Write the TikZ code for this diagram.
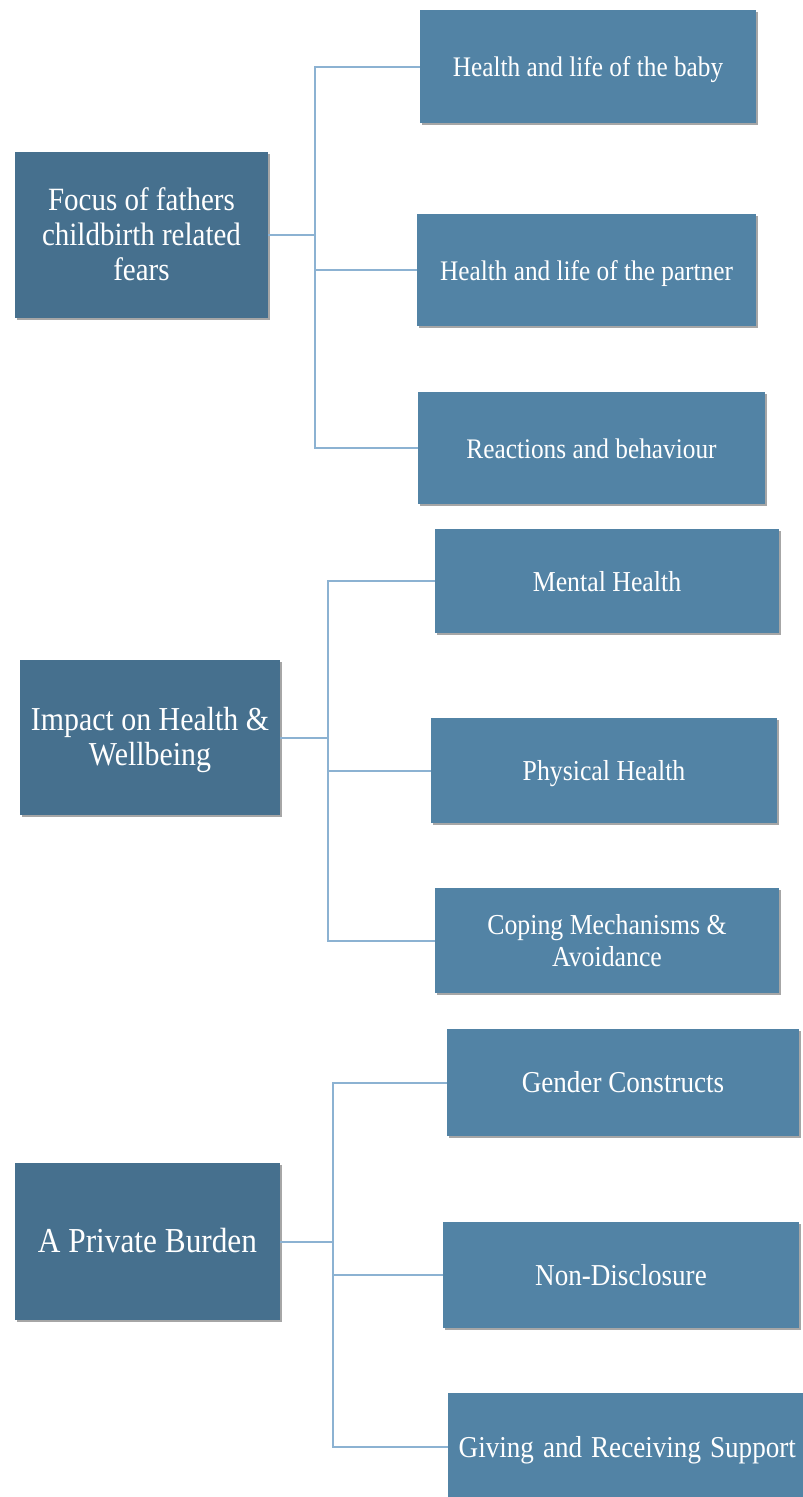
\documentclass[tikz,border=0pt]{standalone}
\usepackage{fontspec}
\setmainfont{Liberation Serif}
\usetikzlibrary{shadows}
\definecolor{parentblue}{HTML}{46708E}
\definecolor{childblue}{HTML}{5283A5}
\definecolor{linkblue}{HTML}{8CB2D2}
\newcommand{\stretchtext}[1]{\raisebox{-3.5pt}[\height][\depth]{\scalebox{1}[1.12]{\begin{tabular}{@{}c@{}}#1\end{tabular}}}}
\tikzset{
  box/.style={draw=none, text=white, align=center, inner sep=4pt,
    drop shadow={shadow xshift=2pt, shadow yshift=-2pt, opacity=0.35, fill=black}},
  parentbox/.style={box, fill=parentblue},
  childbox/.style={box, fill=childblue},
  fa/.style={font=\fontsize{25.3}{29}\selectfont},
  fb/.style={font=\fontsize{25.8}{29}\selectfont},
  fc/.style={font=\fontsize{27.1}{30}\selectfont},
  conn/.style={draw=linkblue, line width=2pt}
}
\begin{document}
\begin{tikzpicture}[x=1pt,y=-1pt]
\clip (0,0) rectangle (803,1497);
\fill[white] (0,0) rectangle (803,1497);
% group 1
\node[parentbox, font=\fontsize{29}{31.3}\selectfont, minimum width=253pt, minimum height=166pt] (p1) at (141.5,235) {\stretchtext{Focus of fathers\\childbirth related\\fears}};
\node[childbox, fa, minimum width=336pt, minimum height=113pt] (c1) at (588,66.5) {\stretchtext{Health and life of the baby}};
\node[childbox, fa, minimum width=339pt, minimum height=112pt] (c2) at (586.5,270) {\stretchtext{Health and life of the partner}};
\node[childbox, fa, minimum width=347pt, minimum height=112pt] (c3) at (591.5,448) {\stretchtext{Reactions and behaviour}};
\coordinate (t1) at (315,0);
% group 2
\node[parentbox, font=\fontsize{29.9}{31.3}\selectfont, minimum width=260pt, minimum height=155pt] (p2) at (150,737.5) {\stretchtext{Impact on Health \&\\Wellbeing}};
\node[childbox, fb, minimum width=344pt, minimum height=104pt] (c4) at (607,581) {\stretchtext{Mental Health}};
\node[childbox, fb, minimum width=346pt, minimum height=105pt] (c5) at (604,770.5) {\stretchtext{Physical Health}};
\node[childbox, fb, minimum width=344pt, minimum height=105pt] (c6) at (607,940.5) {\stretchtext{Coping Mechanisms \&\\Avoidance}};
\coordinate (t2) at (328,0);
% group 3
\node[parentbox, font=\fontsize{31.3}{34}\selectfont, minimum width=265pt, minimum height=157pt] (p3) at (147.5,1241.5) {\stretchtext{A Private Burden}};
\node[childbox, fc, minimum width=352pt, minimum height=107pt] (c7) at (623,1082.5) {\stretchtext{Gender Constructs}};
\node[childbox, fc, minimum width=356pt, minimum height=106pt] (c8) at (621,1275) {\stretchtext{Non-Disclosure}};
\node[childbox, fc, anchor=west, minimum width=362pt, minimum height=108pt, text width=345pt, align=left] (c9) at (448,1447) {\hspace*{2pt}\stretchtext{Giving and Receiving Support}};
\coordinate (t3) at (333,0);
% connectors
\foreach \p/\t/\c in {p1/t1/c1, p1/t1/c2, p1/t1/c3, p2/t2/c4, p2/t2/c5, p2/t2/c6, p3/t3/c7, p3/t3/c8, p3/t3/c9}{
  \draw[conn] (\p.east) -- (\p.east -| \t) |- (\c.west);
}
\end{tikzpicture}
\end{document}
